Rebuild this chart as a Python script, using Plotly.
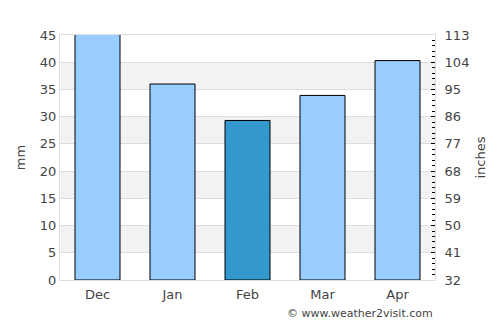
import plotly.graph_objects as go

months = ["Dec", "Jan", "Feb", "Mar", "Apr"]
rain_mm = [46.5, 36.0, 29.3, 33.9, 40.3]
highlight = "Feb"
right_ticks = [32, 41, 50, 59, 68, 77, 86, 95, 104, 113]

light = "#99CCFF"
dark = "#3399CC"
colors = [dark if m == highlight else light for m in months]

fig = go.Figure()
fig.add_trace(go.Bar(
    x=months, y=rain_mm, marker=dict(color=colors, line=dict(color="#000000", width=1)),
    width=0.6, cliponaxis=True, showlegend=False, hoverinfo="x+y",
))
# invisible trace for right axis
fig.add_trace(go.Scatter(x=[months[0]], y=[right_ticks[0]], yaxis="y2", mode="markers",
                         marker=dict(opacity=0), showlegend=False, hoverinfo="skip"))

shapes = []
for i, lo in enumerate(range(0, 45, 5)):
    if i % 2 == 1:
        shapes.append(dict(type="rect", xref="paper", yref="y", x0=0, x1=1, y0=lo, y1=lo + 5,
                           fillcolor="#f2f2f2", line=dict(width=0), layer="below"))

font = "DejaVu Sans, sans-serif"
fig.update_layout(
    width=500, height=325,
    margin=dict(l=60, r=65, t=35, b=45),
    paper_bgcolor="white", plot_bgcolor="white",
    bargap=0.4,
    shapes=shapes,
    font=dict(family=font, size=13, color="#444444"),
    xaxis=dict(showline=True, linecolor="#dddddd", mirror=True, ticks="", showgrid=False,
               tickfont=dict(size=13, color="#444444"), fixedrange=True, ticklabelstandoff=2),
    yaxis=dict(range=[0, 45], dtick=5, tick0=0, showgrid=True, gridcolor="#dddddd", gridwidth=1,
               showline=True, linecolor="#dddddd", ticks="", zeroline=False,
               title=dict(text="mm", font=dict(size=13, color="#444444"), standoff=11),
               tickfont=dict(size=13, color="#444444")),
    yaxis2=dict(overlaying="y", side="right", range=[right_ticks[0], right_ticks[-1]],
                tickvals=right_ticks, showgrid=False, zeroline=False,
                ticks="inside", ticklen=4, tickcolor="#000000", tickwidth=1,
                minor=dict(dtick=1.8, tick0=32, ticks="inside", ticklen=3, tickcolor="#000000", showgrid=False),
                showline=True, linecolor="#dddddd", ticklabelstandoff=6,
                title=dict(text="inches", font=dict(size=13, color="#444444"), standoff=7),
                tickfont=dict(size=13, color="#444444")),
    annotations=[dict(text="© www.weather2visit.com", xref="paper", yref="paper", x=1.0, y=-0.1,
                      xanchor="right", yanchor="top", showarrow=False,
                      font=dict(size=11, color="#444444", family=font))],
)
fig.write_html("out.html")
